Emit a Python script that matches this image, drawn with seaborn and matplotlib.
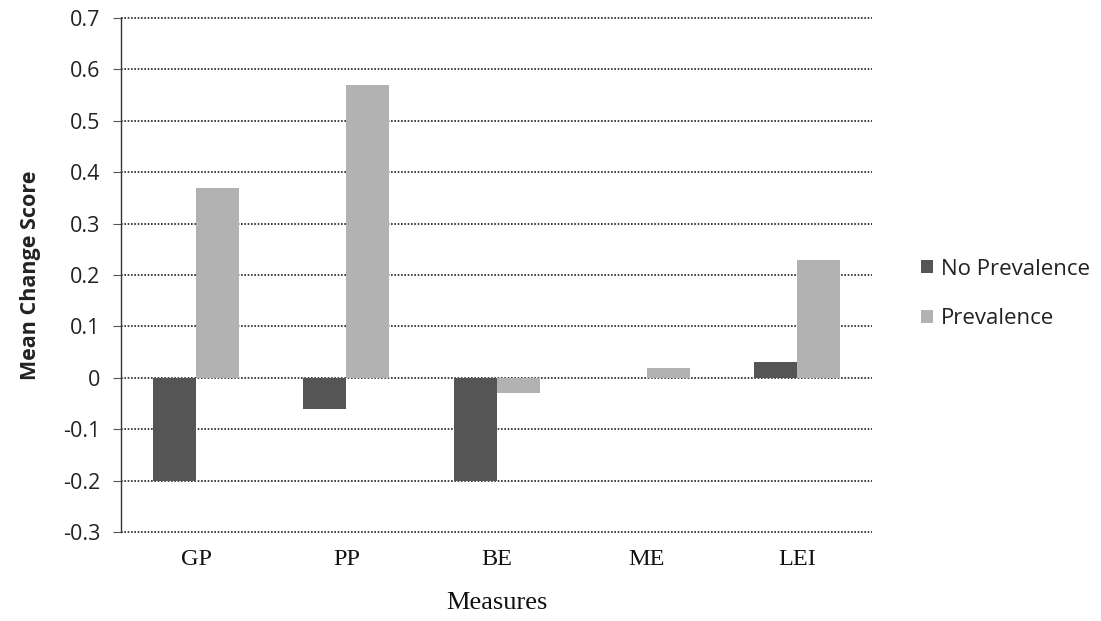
import matplotlib
matplotlib.use("Agg")
import matplotlib.pyplot as plt
import seaborn as sns
import pandas as pd

# Mean change scores per measure, split by prevalence condition
measures = ["GP", "PP", "BE", "ME", "LEI"]
no_prevalence = [-0.20, -0.06, -0.20, 0.00, 0.03]
prevalence = [0.37, 0.57, -0.03, 0.02, 0.23]
groups = ["No Prevalence", "Prevalence"]
y_ticks = [-0.3, -0.2, -0.1, 0.0, 0.1, 0.2, 0.3, 0.4, 0.5, 0.6, 0.7]
y_tick_labels = ["-0.3", "-0.2", "-0.1", "0", "0.1", "0.2", "0.3", "0.4", "0.5", "0.6", "0.7"]

df = pd.DataFrame({
    "Measure": measures * 2,
    "Group": [groups[0]] * len(measures) + [groups[1]] * len(measures),
    "Score": no_prevalence + prevalence,
})

sns.set_theme(style="white")
plt.rcParams["font.family"] = ["Open Sans", "DejaVu Sans"]

fig = plt.figure(figsize=(11.01, 6.21), dpi=100)
ax = fig.add_axes([0.1099, 0.1433, 0.6822, 0.8277])

palette = {"No Prevalence": "#555555", "Prevalence": "#b2b2b2"}
sns.barplot(data=df, x="Measure", y="Score", hue="Group", order=measures,
            hue_order=groups, palette=palette, width=0.573, saturation=1,
            edgecolor="none", linewidth=0, ax=ax, zorder=3)

ax.set_ylim(-0.3, 0.7)
ax.set_xlim(-0.5, len(measures) - 0.5)
ax.set_yticks(y_ticks)
ax.set_yticklabels(y_tick_labels, fontsize=15.5, color="#222222")
ax.yaxis.grid(True, linestyle=(0, (1, 1)), color="#222222", linewidth=1.2, zorder=0)
for gl in ax.get_ygridlines():
    gl.set_clip_on(False)
ax.xaxis.grid(False)

for side in ["top", "right", "bottom"]:
    ax.spines[side].set_visible(False)
ax.spines["left"].set_linestyle((0, (1, 1)))
ax.spines["left"].set_color("#333333")
ax.spines["left"].set_linewidth(1.0)

ax.tick_params(axis="y", length=6, width=0.8, color="#555555", pad=9, left=True)
ax.tick_params(axis="x", length=0, pad=12)
for lbl in ax.get_xticklabels():
    lbl.set_family(["Liberation Serif", "DejaVu Serif"])
    lbl.set_fontsize(17.5)
    lbl.set_color("#111111")

ax.set_xlabel("Measures", family=["Liberation Serif", "DejaVu Serif"], fontsize=19,
              color="#111111", labelpad=16)
ax.set_ylabel("Mean Change Score", fontsize=15.5, fontweight="bold", color="#222222",
              labelpad=16)

leg = ax.legend(loc="center left", bbox_to_anchor=(1.038, 0.463), frameon=False,
                fontsize=16, handlelength=0.55, handleheight=0.55, handletextpad=0.35,
                labelspacing=1.3)
for t in leg.get_texts():
    t.set_color("#222222")

fig.savefig("out.png", dpi=100)
